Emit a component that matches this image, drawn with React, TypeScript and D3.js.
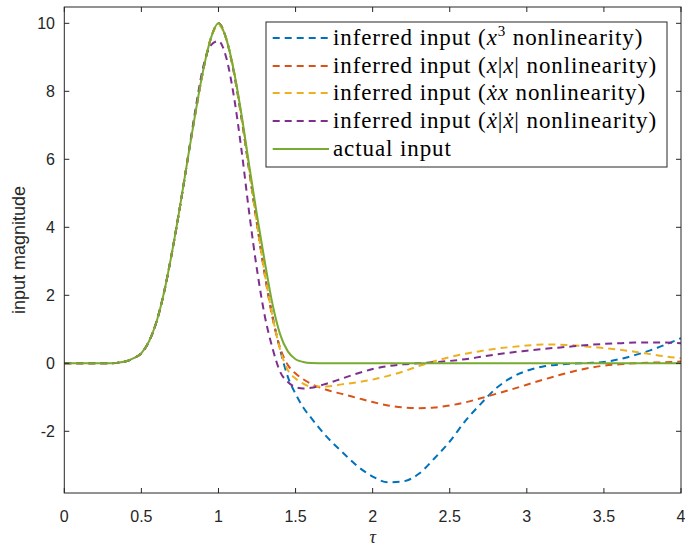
import React from 'react';
import * as d3 from 'd3';

// sample times (denser around the pulse)
const tau = [
  0, 0.1, 0.2, 0.3, 0.35, 0.4, 0.45, 0.5, 0.55, 0.6, 0.65, 0.7, 0.75, 0.8, 0.85, 0.9, 0.95, 1.0,
  1.05, 1.1, 1.15, 1.2, 1.25, 1.3, 1.35, 1.4, 1.45, 1.5, 1.55, 1.6, 1.7, 1.8, 1.9, 2.0, 2.1, 2.2,
  2.3, 2.4, 2.5, 2.6, 2.7, 2.8, 2.9, 3.0, 3.1, 3.2, 3.3, 3.4, 3.5, 3.6, 3.7, 3.8, 3.9, 4.0,
];

const actualInput = [
  0, 0, 0, 0, 0.02, 0.06, 0.15, 0.3, 0.65, 1.25, 2.15, 3.3, 4.6, 6.0, 7.35, 8.6, 9.55, 10,
  9.55, 8.6, 7.3, 5.8, 4.35, 3.0, 1.75, 0.85, 0.35, 0.12, 0.04, 0.01, 0, 0, 0, 0, 0, 0,
  0, 0, 0, 0, 0, 0, 0, 0, 0, 0, 0, 0, 0, 0, 0, 0, 0, 0,
];

const cubicInput = [
  0, 0, 0, 0, 0.02, 0.06, 0.15, 0.3, 0.65, 1.25, 2.15, 3.3, 4.6, 6.0, 7.35, 8.6, 9.55, 10,
  9.55, 8.55, 7.2, 5.65, 4.1, 2.65, 1.4, 0.4, -0.4, -0.9, -1.3, -1.6, -2.15, -2.6, -3.02, -3.33, -3.5, -3.47,
  -3.25, -2.8, -2.3, -1.7, -1.2, -0.74, -0.42, -0.22, -0.1, -0.04, -0.01, 0.01, 0.04, 0.12, 0.24, 0.38, 0.55, 0.74,
];

const absInput = [
  0, 0, 0, 0, 0.02, 0.06, 0.15, 0.3, 0.65, 1.25, 2.15, 3.3, 4.6, 6.0, 7.35, 8.6, 9.55, 10,
  9.55, 8.55, 7.2, 5.65, 4.1, 2.6, 1.35, 0.45, -0.05, -0.3, -0.47, -0.6, -0.78, -0.9, -1.02, -1.14, -1.24, -1.3,
  -1.32, -1.3, -1.24, -1.15, -1.03, -0.9, -0.77, -0.63, -0.49, -0.36, -0.24, -0.14, -0.07, -0.03, 0.0, 0.02, 0.03, 0.05,
];

const dotInput = [
  0, 0, 0, 0, 0.02, 0.06, 0.15, 0.3, 0.65, 1.25, 2.15, 3.3, 4.6, 6.0, 7.35, 8.6, 9.55, 9.95,
  9.55, 8.6, 7.25, 5.7, 4.1, 2.65, 1.4, 0.4, -0.2, -0.45, -0.6, -0.68, -0.68, -0.62, -0.56, -0.48, -0.37, -0.24,
  -0.08, 0.06, 0.18, 0.28, 0.36, 0.43, 0.48, 0.52, 0.55, 0.55, 0.53, 0.49, 0.45, 0.4, 0.34, 0.27, 0.2, 0.15,
];

const dotAbsInput = [
  0, 0, 0, 0, 0.02, 0.06, 0.15, 0.3, 0.65, 1.25, 2.15, 3.3, 4.6, 6.0, 7.45, 8.7, 9.35, 9.48,
  9.0, 7.85, 6.25, 4.4, 2.75, 1.4, 0.45, -0.25, -0.55, -0.7, -0.74, -0.72, -0.6, -0.45, -0.3, -0.17, -0.08, -0.03,
  0.0, 0.03, 0.07, 0.12, 0.19, 0.26, 0.32, 0.37, 0.42, 0.46, 0.5, 0.54, 0.57, 0.59, 0.61, 0.61, 0.61, 0.59,
];

const xTicks = [0, 0.5, 1, 1.5, 2, 2.5, 3, 3.5, 4];
const yTicks = [-2, 0, 2, 4, 6, 8, 10];

const series = [
  { values: cubicInput, color: '#0072BD', dashed: true },
  { values: absInput, color: '#D95319', dashed: true },
  { values: dotInput, color: '#EDB120', dashed: true },
  { values: dotAbsInput, color: '#7E2F8E', dashed: true },
  { values: actualInput, color: '#77AC30', dashed: false },
];

const W = 685;
const H = 548;
const left = 64.3, right = 681, top = 7, bottom = 493;
const axisColor = '#262626';
const tickFont = '"Liberation Sans", Arial, sans-serif';
const serif = '"Liberation Serif", "Times New Roman", serif';

const legendLabels: React.ReactNode[] = [
  <>inferred input (<tspan fontStyle="italic">x</tspan><tspan fontSize={15} dy={-9}>3</tspan><tspan dy={9}> nonlinearity)</tspan></>,
  <>inferred input (<tspan fontStyle="italic">x</tspan>|<tspan fontStyle="italic">x</tspan>| nonlinearity)</>,
  <>inferred input (<tspan fontStyle="italic">ẋx</tspan> nonlinearity)</>,
  <>inferred input (<tspan fontStyle="italic">ẋ</tspan>|<tspan fontStyle="italic">ẋ</tspan>| nonlinearity)</>,
  <>actual input</>,
];

export default function App() {
  const x = d3.scaleLinear().domain([0, 4]).range([left, right]);
  const y = d3.scaleLinear().domain([-3.815, 10.48]).range([bottom, top]);

  const line = (vals: number[]) =>
    d3
      .line<number>()
      .x((_, i) => x(tau[i]))
      .y((d) => y(d))
      .curve(d3.curveMonotoneX)(vals) || '';

  const legX = 266, legY = 22, legW = 401, legH = 145;
  const rowY = [38, 66, 93, 121, 149];

  return (
    <svg width={W} height={H} style={{ position: 'absolute', left: 0, top: 0, background: '#fff' }}>
      <rect x={0} y={0} width={W} height={H} fill="#fff" />
      <defs>
        <clipPath id="plotArea">
          <rect x={left} y={top} width={right - left} height={bottom - top} />
        </clipPath>
      </defs>

      <g clipPath="url(#plotArea)">
        {series.map((s, i) => (
          <path
            key={i}
            d={line(s.values)}
            fill="none"
            stroke={s.color}
            strokeWidth={2}
            strokeDasharray={s.dashed ? '7,5' : undefined}
          />
        ))}
      </g>

      {/* box + ticks */}
      <rect x={left} y={top} width={right - left} height={bottom - top} fill="none" stroke={axisColor} strokeWidth={1} />
      {xTicks.map((t) => (
        <g key={'x' + t}>
          <line x1={x(t)} x2={x(t)} y1={bottom} y2={bottom - 5} stroke={axisColor} />
          <line x1={x(t)} x2={x(t)} y1={top} y2={top + 5} stroke={axisColor} />
          <text x={x(t)} y={522} textAnchor="middle" fontFamily={tickFont} fontSize={16} fill={axisColor}>
            {String(t)}
          </text>
        </g>
      ))}
      {yTicks.map((t) => (
        <g key={'y' + t}>
          <line x1={left} x2={left + 5} y1={y(t)} y2={y(t)} stroke={axisColor} />
          <line x1={right} x2={right - 5} y1={y(t)} y2={y(t)} stroke={axisColor} />
          <text x={55} y={y(t)} dy="0.35em" textAnchor="end" fontFamily={tickFont} fontSize={16} fill={axisColor}>
            {String(t)}
          </text>
        </g>
      ))}

      <text
        transform={`translate(25,${(top + bottom) / 2}) rotate(-90)`}
        textAnchor="middle"
        fontFamily={tickFont}
        fontSize={18}
        fill={axisColor}
      >
        input magnitude
      </text>
      <text x={(left + right) / 2} y={543} textAnchor="middle" fontFamily={serif} fontStyle="italic" fontSize={18} fill={axisColor}>
        τ
      </text>

      {/* legend */}
      <rect x={legX} y={legY} width={legW} height={legH} fill="#fff" stroke={axisColor} strokeWidth={1} />
      {series.map((s, i) => (
        <g key={'leg' + i}>
          <line
            x1={272.7}
            x2={329}
            y1={rowY[i]}
            y2={rowY[i]}
            stroke={s.color}
            strokeWidth={2}
            strokeDasharray={s.dashed ? '7,5' : undefined}
          />
          <text x={333} y={rowY[i] + 7} fontFamily={serif} fontSize={23} letterSpacing={0.9} fill="#000">
            {legendLabels[i]}
          </text>
        </g>
      ))}
    </svg>
  );
}
